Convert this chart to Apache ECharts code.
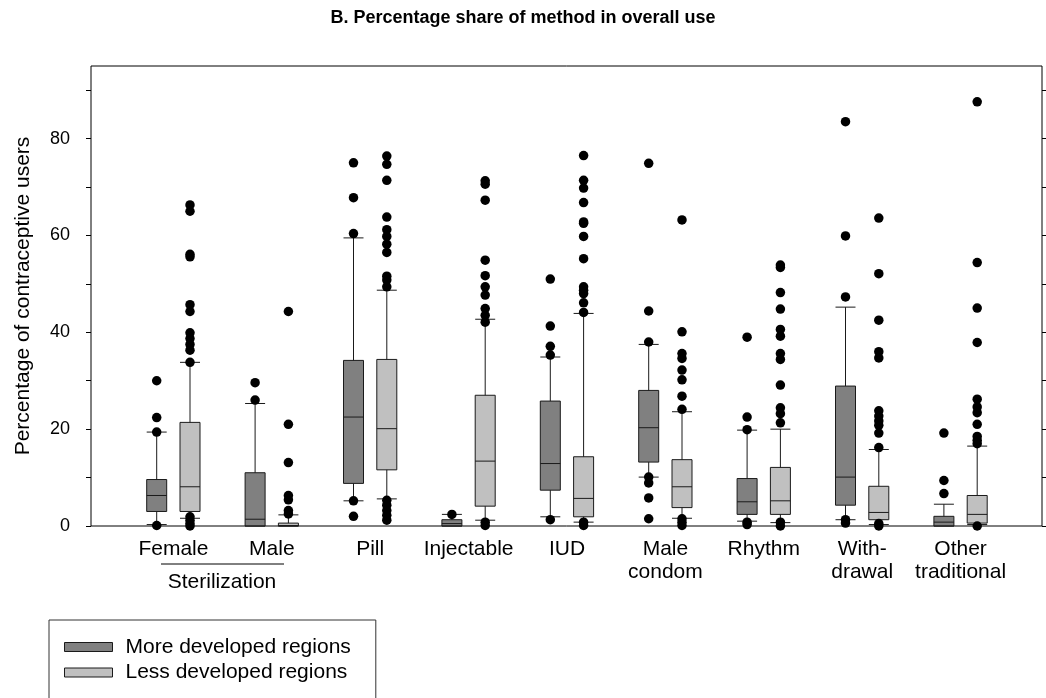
<!DOCTYPE html>
<html><head><meta charset="utf-8">
<script src="https://cdn.jsdelivr.net/npm/echarts@6/dist/echarts.min.js"></script>
<style>html,body{margin:0;padding:0;background:#fff}#c{width:1046px;height:698px}</style>
</head><body><div id="c"></div>
<script>
const categories = ['Female','Male','Pill','Injectable','IUD','Male\ncondom','Rhythm','With-\ndrawal','Other\ntraditional'];
const yLabelValues = [0, 20, 40, 60, 80];
const yTickValues = [0, 10, 20, 30, 40, 50, 60, 70, 80, 90];
// [lower whisker, Q1, median, Q3, upper whisker]
const moreBox = [
  [0.3, 3.0, 6.3, 9.6, 19.4],
  [0, 0, 1.4, 11.0, 25.3],
  [5.2, 8.8, 22.5, 34.2, 59.5],
  [0, 0, 0.5, 1.3, 2.4],
  [1.9, 7.4, 12.9, 25.8, 34.9],
  [10.1, 13.2, 20.3, 28.0, 37.5],
  [1.0, 2.4, 5.0, 9.8, 19.8],
  [1.3, 4.3, 10.1, 28.9, 45.2],
  [0, 0, 0.8, 2.0, 4.5]
];
const lessBox = [
  [1.6, 3.0, 8.1, 21.4, 33.8],
  [0, 0, 0.1, 0.6, 2.3],
  [5.6, 11.6, 20.1, 34.4, 48.7],
  [1.2, 4.1, 13.4, 27.0, 42.7],
  [0.8, 1.9, 5.7, 14.3, 43.9],
  [1.6, 3.8, 8.1, 13.7, 23.6],
  [0.7, 2.4, 5.2, 12.1, 20.0],
  [0.3, 1.3, 2.8, 8.2, 15.8],
  [0.3, 0.6, 2.4, 6.3, 16.5]
];
const moreOutliers = [
  [30.0, 22.4, 19.4, 0.1],
  [29.6, 26.0],
  [75.0, 67.8, 60.4, 5.2, 2.0],
  [2.4],
  [51.0, 41.3, 37.1, 35.3, 1.3],
  [74.9, 44.4, 38.0, 10.1, 8.9, 5.8, 1.5],
  [39.0, 22.5, 19.9, 0.8, 0.3],
  [83.5, 59.9, 47.3, 1.3, 0.6],
  [19.2, 9.4, 6.7]
];
const lessOutliers = [
  [66.3, 65.0, 56.1, 55.6, 45.7, 44.3, 39.9, 38.7, 37.5, 36.3, 33.8, 1.9, 1.2, 0.5, 0],
  [44.3, 21.0, 13.1, 6.3, 5.4, 3.2, 2.5],
  [76.4, 74.7, 71.4, 63.8, 61.2, 59.8, 58.2, 56.5, 51.6, 50.8, 49.4, 5.3, 4.3, 3.2, 2.2, 1.2],
  [71.3, 70.6, 67.3, 54.9, 51.7, 49.4, 47.7, 44.9, 43.5, 42.1, 0.8, 0.1],
  [76.5, 71.4, 69.8, 66.8, 62.8, 62.5, 59.8, 55.2, 49.4, 48.7, 48.0, 46.1, 44.1, 0.8, 0.1],
  [63.2, 40.1, 35.6, 34.6, 32.2, 30.2, 26.8, 24.1, 1.5, 0.8, 0.1],
  [53.9, 53.4, 48.2, 44.8, 40.6, 39.2, 35.6, 34.4, 29.1, 24.4, 23.2, 21.3, 0.8, 0],
  [63.6, 52.1, 42.5, 36.0, 34.7, 23.8, 22.7, 21.7, 20.8, 19.2, 16.2, 0.5, 0],
  [87.6, 54.4, 45.0, 37.9, 26.2, 24.6, 23.4, 21.0, 18.5, 17.7, 17.0, 0]
];
const seriesNames = ['More developed regions', 'Less developed regions'];

const FONT = 'Arial, "Liberation Sans", Helvetica, sans-serif';
const DARK = '#808080', LIGHT = '#c0c0c0', EDGE = '#1a1a1a';
const toPoints = arr => arr.flatMap((vals, i) => vals.map(v => [i, v]));

const chart = echarts.init(document.getElementById('c'), null, {renderer: 'canvas'});
const hiddenY = g => ({gridIndex: g, type: 'value', min: 0, max: 95, show: false});
const bandW = 885.6;
chart.setOption({
  animation: false,
  backgroundColor: '#fff',
  title: {
    text: 'B. Percentage share of method in overall use',
    left: 'center', top: 9, padding: 0,
    textStyle: {fontFamily: FONT, fontSize: 18, fontWeight: 'bold', color: '#000'}
  },
  legend: {
    data: [
      {name: seriesNames[0], itemStyle: {color: DARK, borderColor: EDGE, borderWidth: 1}},
      {name: seriesNames[1], itemStyle: {color: LIGHT, borderColor: EDGE, borderWidth: 1}}
    ],
    orient: 'vertical', left: 49, top: 620, height: 120, width: 320,
    icon: 'rect', itemWidth: 48, itemHeight: 9, itemGap: 3.5,
    padding: [16, 25, 40, 15],
    borderColor: '#333', borderWidth: 1,
    selectedMode: false,
    textStyle: {fontFamily: FONT, fontSize: 21, color: '#000', lineHeight: 22, padding: [0, 0, 0, 8]}
  },
  grid: [
    {left: 91, right: 4, top: 66, bottom: 172, show: true, borderColor: '#000', borderWidth: 1, backgroundColor: 'transparent'},
    {left: 107.5, width: bandW, top: 66, bottom: 172},
    {left: 140.8, width: bandW, top: 66, bottom: 172},
    {left: 124.2, width: bandW, top: 66, bottom: 172}
  ],
  xAxis: [
    {gridIndex: 0, type: 'value', min: 0, max: 1, show: false},
    {gridIndex: 1, type: 'category', data: categories, show: false},
    {gridIndex: 2, type: 'category', data: categories, show: false},
    {gridIndex: 3, type: 'category', data: categories,
      axisLine: {show: false}, axisTick: {show: false}, splitLine: {show: false},
      axisLabel: {fontFamily: FONT, fontSize: 21, color: '#000', lineHeight: 23, margin: 12, interval: 0}}
  ],
  yAxis: [
    {gridIndex: 0, type: 'value', min: 0, max: 95, position: 'left',
      name: 'Percentage of contraceptive users', nameLocation: 'middle', nameGap: 57,
      nameTextStyle: {fontFamily: FONT, fontSize: 21, color: '#000'},
      axisLine: {show: false}, splitLine: {show: false},
      axisTick: {show: true, length: 5, customValues: yTickValues, lineStyle: {color: '#000', width: 1}},
      axisLabel: {customValues: yLabelValues, fontFamily: FONT, fontSize: 18, color: '#000', margin: 21}},
    {gridIndex: 0, type: 'value', min: 0, max: 95, position: 'right',
      axisLine: {show: false}, splitLine: {show: false}, axisLabel: {show: false},
      axisTick: {show: true, length: 4, customValues: yTickValues, lineStyle: {color: '#000', width: 1}}},
    hiddenY(1), hiddenY(2), hiddenY(3)
  ],
  graphic: [
    {type: 'line', shape: {x1: 161, y1: 564, x2: 284, y2: 564}, style: {stroke: '#000', lineWidth: 1}},
    {type: 'text', x: 222, y: 582, style: {text: 'Sterilization', font: '21px ' + FONT, fill: '#000', align: 'center', verticalAlign: 'middle'}}
  ],
  series: [
    {name: seriesNames[0], type: 'boxplot', xAxisIndex: 1, yAxisIndex: 2, data: moreBox,
      boxWidth: [20, 20], itemStyle: {color: DARK, borderColor: EDGE, borderWidth: 1}},
    {name: seriesNames[1], type: 'boxplot', xAxisIndex: 2, yAxisIndex: 3, data: lessBox,
      boxWidth: [20, 20], itemStyle: {color: LIGHT, borderColor: EDGE, borderWidth: 1}},
    {name: 'more-outliers', type: 'scatter', xAxisIndex: 1, yAxisIndex: 2, data: toPoints(moreOutliers),
      symbol: 'circle', symbolSize: 9.5, itemStyle: {color: '#000', opacity: 1}, clip: false},
    {name: 'less-outliers', type: 'scatter', xAxisIndex: 2, yAxisIndex: 3, data: toPoints(lessOutliers),
      symbol: 'circle', symbolSize: 9.5, itemStyle: {color: '#000', opacity: 1}, clip: false}
  ]
});
</script>
</body></html>
